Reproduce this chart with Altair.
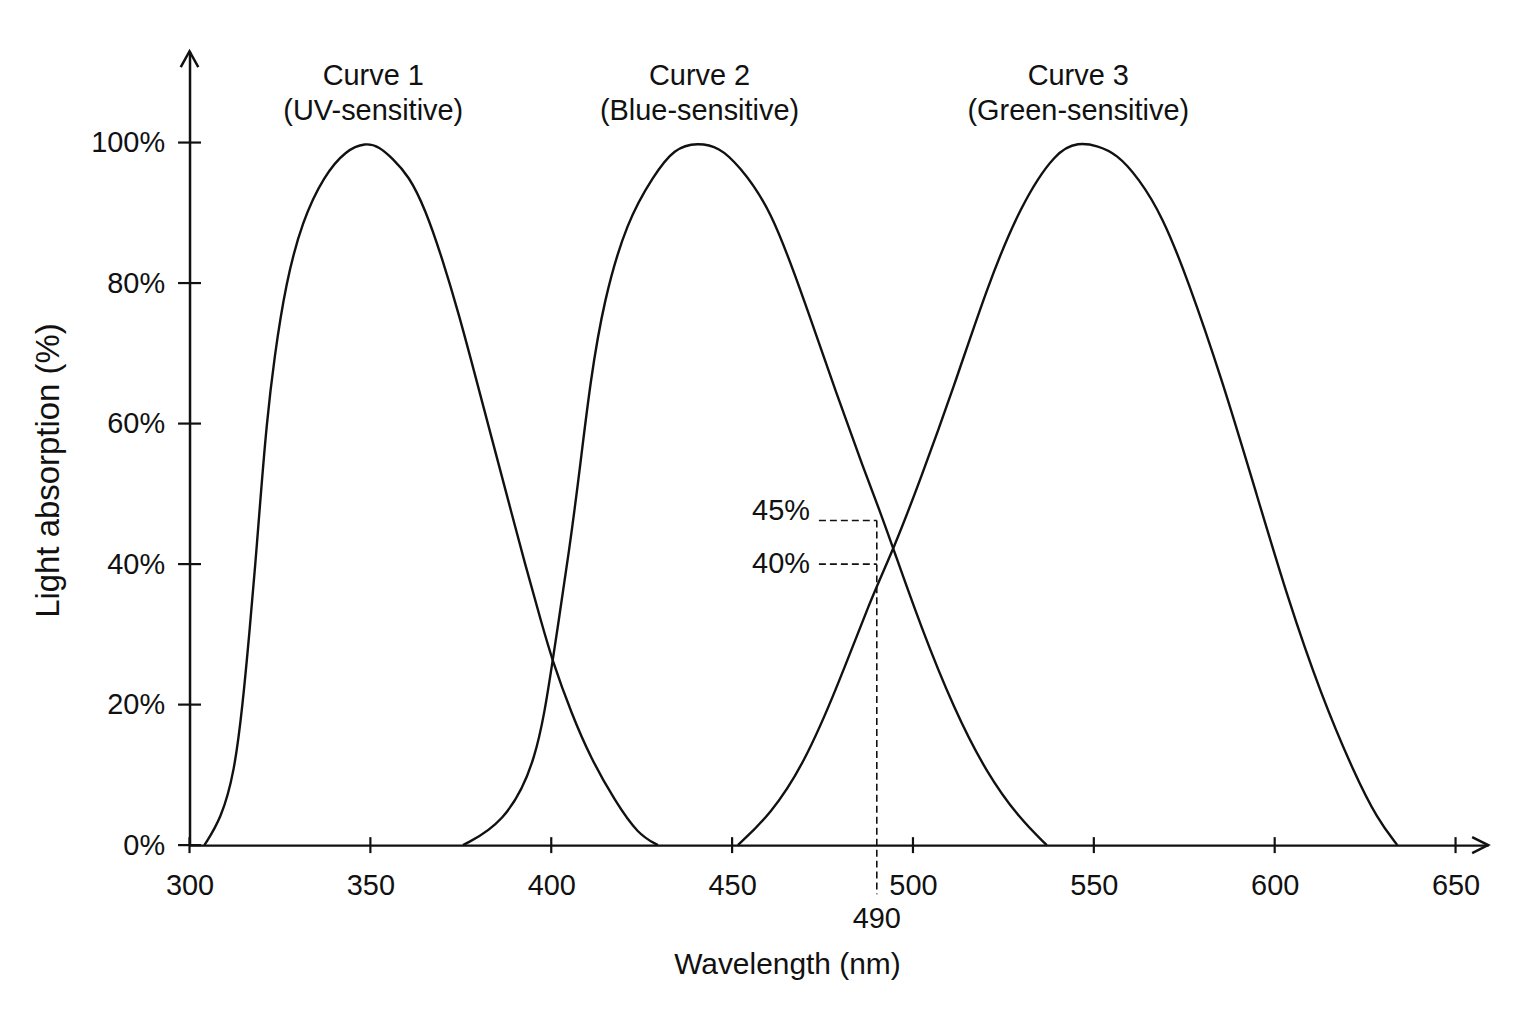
import altair as alt
import pandas as pd

# absorption curves: wavelength (nm) and absorption (%)
uv_nm = [304.1, 308.7, 312.4, 314.7, 316.5, 318.2, 319.5, 321.3, 323.4, 326.6, 331.2, 337.2,
         343.2, 348.7, 352.5, 356.0, 360.6, 365.2, 369.8, 374.4, 379.0, 383.6, 388.2, 392.8,
         397.4, 400.1, 405.6, 411.0, 417.6, 424.0, 429.5]
uv_pct = [0, 3.7, 10.3, 20.0, 29.9, 40.0, 48.6, 60.0, 69.3, 80.0, 88.9, 95.3,
          98.9, 100, 99.4, 97.8, 95.3, 90.5, 83.6, 75.7, 66.8, 57.8, 48.9, 39.9,
          31.5, 26.6, 18.7, 12.3, 6.3, 1.5, 0]

blue_nm = [375.6, 386.7, 396.0, 400.3, 405.3, 408.0, 410.8, 414.5, 420.9, 428.3, 434.0, 440.5,
           446.5, 451.6, 460.7, 469.9, 479.1, 486.4, 490.9, 494.7, 502.1, 511.3, 520.4, 529.6,
           537.0]
blue_pct = [0, 3.0, 11.6, 25.9, 43.0, 54.0, 66.0, 77.5, 88.8, 95.3, 99.2, 100,
            99.3, 96.9, 90.7, 77.6, 63.9, 53.5, 47.5, 42.0, 31.2, 19.4, 10.2, 3.7,
            0]

green_nm = [451.6, 460.7, 469.9, 479.1, 488.3, 494.7, 502.1, 511.3, 520.4, 529.6, 539.7,
            545.8, 550.8, 556.3, 562.3, 569.0, 576.1, 585.3, 594.5, 603.6, 612.8, 622.0,
            628.4, 633.9]
green_pct = [0, 4.4, 11.6, 22.5, 35.0, 42.2, 52.1, 65.2, 79.3, 91.0, 98.9,
             100, 99.6, 98.4, 95.0, 89.5, 80.3, 66.5, 50.8, 35.1, 21.4, 10.2,
             3.7, 0]

x_ticks = [300, 350, 400, 450, 500, 550, 600, 650]
y_ticks = [0, 20, 40, 60, 80, 100]

curve_names = ["Curve 1", "Curve 2", "Curve 3"]
curve_kinds = ["(UV-sensitive)", "(Blue-sensitive)", "(Green-sensitive)"]
curve_label_nm = [350.8, 441.0, 545.7]

# dashed read-off at 490 nm
guide_nm = 490
guide_levels = [46.2, 40]
guide_start = 474
guide_text = ["45%", "40%"]
guide_text_y = [47.6, 40]
guide_bottom = -7

FONT = "Liberation Sans"
INK = "#111111"

curves = pd.concat([
    pd.DataFrame({"nm": uv_nm, "pct": uv_pct, "curve": "UV"}),
    pd.DataFrame({"nm": blue_nm, "pct": blue_pct, "curve": "Blue"}),
    pd.DataFrame({"nm": green_nm, "pct": green_pct, "curve": "Green"}),
])

xscale = alt.Scale(domain=[300, 659], nice=False, zero=False)
yscale = alt.Scale(domain=[0, 113], nice=False, zero=False)

x_axis = alt.Axis(
    values=x_ticks, ticks=False, tickSize=0, labelPadding=27, labelFontSize=29, labelFont=FONT,
    labelColor=INK, domainColor=INK, domainWidth=2.5, grid=False, labelFlush=False,
    title="Wavelength (nm)", titleFont=FONT, titleFontSize=30, titleFontWeight="normal",
    titleColor=INK, titleX=599, titleY=120, titleAlign="center", titleBaseline="middle")
y_axis = alt.Axis(
    values=y_ticks, ticks=False, tickSize=0, labelPadding=25, labelFontSize=29, labelFont=FONT,
    labelColor=INK, domainColor=INK, domainWidth=2.5, grid=False, labelFlush=False,
    labelExpr="datum.value + '%'",
    title="Light absorption (%)", titleFont=FONT, titleFontSize=33, titleFontWeight="normal",
    titleColor=INK, titleAngle=270, titleX=-141, titleY=420, titleAlign="center",
    titleBaseline="middle")


def xy():
    return dict(x=alt.X("nm:Q", scale=xscale, axis=x_axis),
                y=alt.Y("pct:Q", scale=yscale, axis=y_axis))


lines = alt.Chart(curves).mark_line(color=INK, strokeWidth=2.4, interpolate="basis").encode(
    detail="curve:N", **xy())

# ticks crossing the axes
xt = alt.Chart(pd.DataFrame({"nm": x_ticks, "pct": [0] * len(x_ticks)})).mark_tick(
    orient="vertical", size=16, thickness=2.2, color=INK, opacity=1).encode(**xy())
yt = alt.Chart(pd.DataFrame({"nm": [300] * len(y_ticks), "pct": y_ticks})).mark_tick(
    orient="horizontal", size=23, thickness=2.2, color=INK, opacity=1).encode(**xy())

# arrow heads at the axis ends
x_arrow = alt.Chart(pd.DataFrame({"nm": [659], "pct": [0]})).mark_point(
    shape="M -1 -0.5 L 0 0 L -1 0.5", size=1024, filled=False, stroke=INK, strokeWidth=2.5,
    opacity=1).encode(**xy())
y_arrow = alt.Chart(pd.DataFrame({"nm": [300], "pct": [113]})).mark_point(
    shape="M -0.55 1 L 0 0 L 0.55 1", size=1024, filled=False, stroke=INK, strokeWidth=2.5,
    opacity=1).encode(**xy())

labels_df = pd.DataFrame({
    "nm": curve_label_nm * 2,
    "pct": [109.5] * 3 + [104.5] * 3,
    "text": curve_names + curve_kinds,
})
curve_labels = alt.Chart(labels_df).mark_text(
    font=FONT, fontSize=29, color=INK, baseline="middle", align="center").encode(
    text="text:N", **xy())

guide_df = pd.DataFrame({"nm": [guide_start] * 2, "nm2": [guide_nm] * 2, "pct": guide_levels})
h_guides = alt.Chart(guide_df).mark_rule(color=INK, strokeWidth=1.6, strokeDash=[7, 4]).encode(
    x2="nm2:Q", **xy())
v_guide = alt.Chart(pd.DataFrame({"nm": [guide_nm], "pct": [guide_levels[0]], "pct2": [guide_bottom]})
                    ).mark_rule(color=INK, strokeWidth=1.6, strokeDash=[7, 4]).encode(
    y2="pct2:Q", **xy())

guide_labels = alt.Chart(pd.DataFrame({"nm": [guide_start] * 2, "pct": guide_text_y, "text": guide_text})
                         ).mark_text(font=FONT, fontSize=29, color=INK, align="right",
                                     baseline="middle", dx=-9).encode(text="text:N", **xy())
nm_label = alt.Chart(pd.DataFrame({"nm": [guide_nm], "pct": [0], "text": [str(guide_nm)]})).mark_text(
    font=FONT, fontSize=29, color=INK, align="center", baseline="top", dy=60).encode(
    text="text:N", **xy())

chart = alt.layer(
    lines, h_guides, v_guide, xt, yt, x_arrow, y_arrow, curve_labels, guide_labels, nm_label
).properties(
    width=1302, height=796, autosize="none",
    padding={"left": 182, "top": 42, "right": 40, "bottom": 170},
    background="white",
).configure_view(stroke=None)

chart.save("out.html", embed_options={"renderer": "svg", "actions": False})
